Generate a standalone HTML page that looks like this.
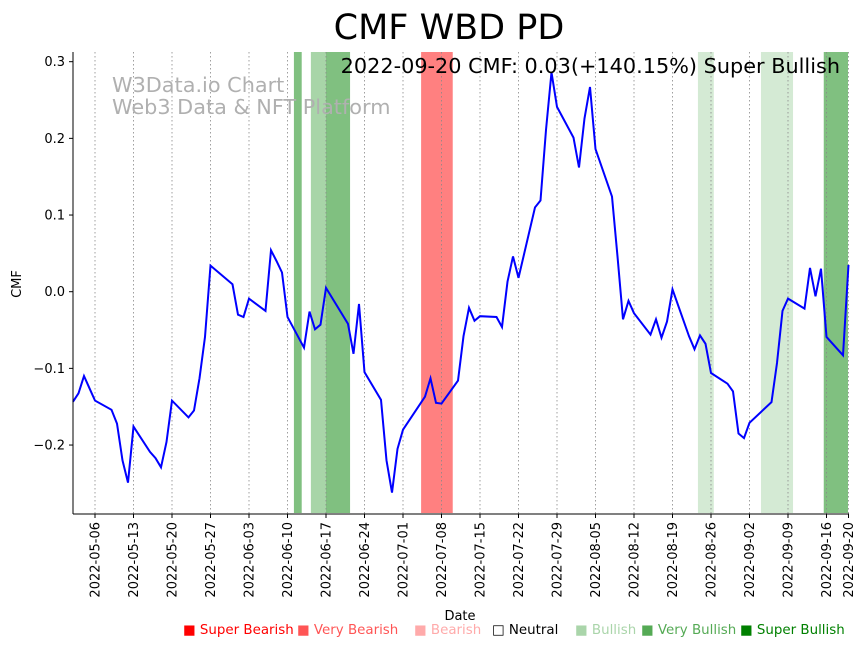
<!DOCTYPE html>
<html><head><meta charset="utf-8"><style>
body{margin:0;background:#fff;}
svg{display:block;font-family:"DejaVu Sans","Liberation Sans",sans-serif;}
</style></head><body>
<svg id="chart" width="867" height="646" viewBox="0 0 867 646">
<text x="449" y="39" font-size="35" text-anchor="middle">CMF WBD PD</text>
<g id="bands"></g>
<g id="grid"></g>
<text x="112" y="92" font-size="20.8" fill="#b0b0b0">W3Data.io Chart</text>
<text x="112" y="114" font-size="20.8" fill="#b0b0b0">Web3 Data &amp; NFT Platform</text>
<path id="line" fill="none" stroke="#0000ff" stroke-width="2"/>
<text x="840" y="73" font-size="20.8" text-anchor="end">2022-09-20 CMF: 0.03(+140.15%) Super Bullish</text>
<line x1="73" y1="52" x2="73" y2="514" stroke="#000" stroke-width="1"/>
<line x1="73" y1="514" x2="849" y2="514" stroke="#000" stroke-width="1"/>
<g id="yticks"></g>
<g id="xticks"></g>
<text x="21" y="284" font-size="13" text-anchor="middle" transform="rotate(-90 21 284)">CMF</text>
<text x="460" y="620" font-size="13" text-anchor="middle">Date</text>
<g font-size="13.4">
<text x="183" y="634" fill="#ff0000">■ Super Bearish</text>
<text x="297" y="634" fill="#ff5555">■ Very Bearish</text>
<text x="414" y="634" fill="#ffaaaa">■ Bearish</text>
<text x="492" y="634" fill="#000000">□ Neutral</text>
<text x="575" y="634" fill="#aad5aa">■ Bullish</text>
<text x="641" y="634" fill="#55aa55">■ Very Bullish</text>
<text x="740" y="634" fill="#008000">■ Super Bullish</text>
</g>
</svg>
<script>
const dates = ["2022-05-02","2022-05-03","2022-05-04","2022-05-05","2022-05-06","2022-05-09","2022-05-10","2022-05-11","2022-05-12","2022-05-13","2022-05-16","2022-05-17","2022-05-18","2022-05-19","2022-05-20","2022-05-23","2022-05-24","2022-05-25","2022-05-26","2022-05-27","2022-05-31","2022-06-01","2022-06-02","2022-06-03","2022-06-06","2022-06-07","2022-06-08","2022-06-09","2022-06-10","2022-06-13","2022-06-14","2022-06-15","2022-06-16","2022-06-17","2022-06-21","2022-06-22","2022-06-23","2022-06-24","2022-06-27","2022-06-28","2022-06-29","2022-06-30","2022-07-01","2022-07-05","2022-07-06","2022-07-07","2022-07-08","2022-07-11","2022-07-12","2022-07-13","2022-07-14","2022-07-15","2022-07-18","2022-07-19","2022-07-20","2022-07-21","2022-07-22","2022-07-25","2022-07-26","2022-07-27","2022-07-28","2022-07-29","2022-08-01","2022-08-02","2022-08-03","2022-08-04","2022-08-05","2022-08-08","2022-08-09","2022-08-10","2022-08-11","2022-08-12","2022-08-15","2022-08-16","2022-08-17","2022-08-18","2022-08-19","2022-08-22","2022-08-23","2022-08-24","2022-08-25","2022-08-26","2022-08-29","2022-08-30","2022-08-31","2022-09-01","2022-09-02","2022-09-06","2022-09-07","2022-09-08","2022-09-09","2022-09-12","2022-09-13","2022-09-14","2022-09-15","2022-09-16","2022-09-19","2022-09-20"];
const cmf = [-0.1435,-0.1325,-0.110,-0.126,-0.142,-0.154,-0.172,-0.220,-0.249,-0.176,-0.209,-0.217,-0.229,-0.196,-0.142,-0.164,-0.155,-0.113,-0.059,0.034,0.0096,-0.030,-0.033,-0.009,-0.025,0.054,0.040,0.025,-0.033,-0.073,-0.026,-0.049,-0.043,0.005,-0.042,-0.081,-0.016,-0.105,-0.141,-0.220,-0.262,-0.205,-0.180,-0.137,-0.113,-0.145,-0.146,-0.116,-0.058,-0.021,-0.038,-0.032,-0.033,-0.046,0.013,0.046,0.018,0.110,0.119,0.211,0.286,0.241,0.201,0.162,0.226,0.267,0.186,0.124,0.046,-0.036,-0.012,-0.028,-0.056,-0.036,-0.060,-0.039,0.003,-0.058,-0.075,-0.057,-0.068,-0.106,-0.120,-0.130,-0.185,-0.191,-0.171,-0.144,-0.093,-0.025,-0.009,-0.022,0.031,-0.006,0.030,-0.059,-0.083,0.035];
const bandStart = ["2022-06-11T04:00","2022-06-14T06:00","2022-06-17T00:00","2022-07-04T07:00","2022-08-23T15:00","2022-09-04T02:00","2022-09-15T12:00"];
const bandEnd   = ["2022-06-12T14:00","2022-06-17T00:00","2022-06-21T09:00","2022-07-10T01:00","2022-08-26T12:00","2022-09-09T22:00","2022-09-20T23:59"];
const bandLevel = ["very-bullish","bullish","very-bullish","very-bearish","weak-bullish","weak-bullish","very-bullish"];
const xTickLabels = ["2022-05-06","2022-05-13","2022-05-20","2022-05-27","2022-06-03","2022-06-10","2022-06-17","2022-06-24","2022-07-01","2022-07-08","2022-07-15","2022-07-22","2022-07-29","2022-08-05","2022-08-12","2022-08-19","2022-08-26","2022-09-02","2022-09-09","2022-09-16","2022-09-20"];
const yTicks = [-0.2,-0.1,0.0,0.1,0.2,0.3];

const NS="http://www.w3.org/2000/svg";
const t0=Date.parse("2022-05-02T00:00Z");
function dayOf(s){ if(s.length===10) s+="T00:00"; return (Date.parse(s+"Z")-t0)/86400000; }
function xScale(s){ return 73 + dayOf(s)*5.5; }
function yScale(v){ return 291.7 - v*766.7; }
const bandColors={"very-bullish":"#80c080","bullish":"#a8d5a8","weak-bullish":"#d4ead4","very-bearish":"#ff8080"};
function mk(tag,attrs,parent){const e=document.createElementNS(NS,tag);for(const k in attrs)e.setAttribute(k,attrs[k]);parent.appendChild(e);return e;}

const gb=document.getElementById('bands');
bandStart.forEach((s,i)=>{
  const x1=xScale(s), x2=Math.min(xScale(bandEnd[i]),848);
  const r=mk('rect',{x:x1,y:52,width:x2-x1,height:461,fill:bandColors[bandLevel[i]]},gb);
  
  
});
const gg=document.getElementById('grid'), gx=document.getElementById('xticks');
xTickLabels.forEach(d=>{
  const x=xScale(d);
  const l=mk('line',{x1:x,y1:52,x2:x,y2:514,stroke:'#888','stroke-width':0.8,'stroke-dasharray':'1.5,2.5'},gg);
  
  
  const tk=mk('line',{x1:x,y1:514,x2:x,y2:518,stroke:'#000'},gx);
  
  
  const t=mk('text',{x:x+4.5,y:522,'font-size':13,'text-anchor':'end',transform:`rotate(-90 ${x+4.5} 522)`},gx);
  t.textContent=d;
  
  
});
const gy=document.getElementById('yticks');
yTicks.forEach(v=>{
  const y=yScale(v);
  const tk=mk('line',{x1:69,y1:y,x2:73,y2:y,stroke:'#000'},gy);
  
  
  const t=mk('text',{x:65,y:y+4.5,'font-size':13,'text-anchor':'end'},gy);
  t.textContent=(v<0?'\u2212':'')+Math.abs(v).toFixed(1);
  
  
});
document.getElementById('line').setAttribute('d',dates.map((d,i)=>(i?'L':'M')+xScale(d).toFixed(1)+','+yScale(cmf[i]).toFixed(1)).join(' '));
</script>
</body></html>
